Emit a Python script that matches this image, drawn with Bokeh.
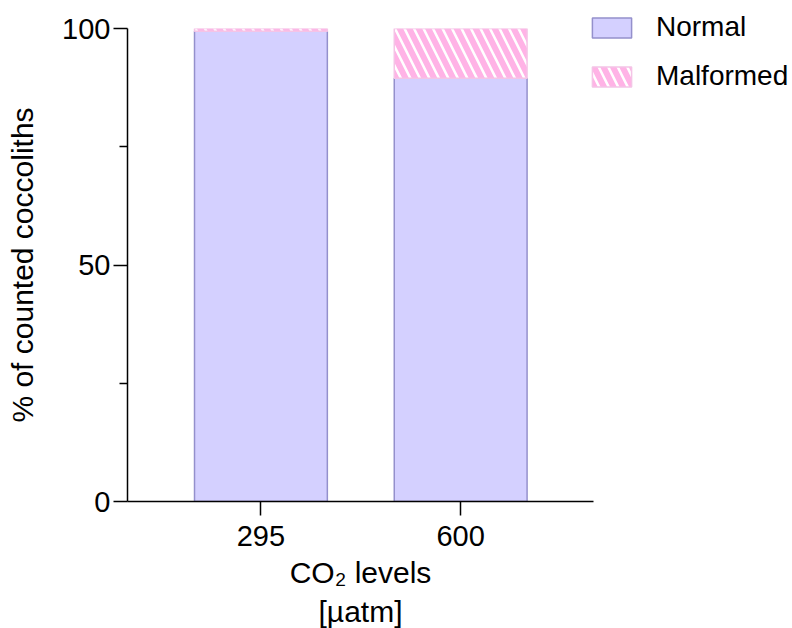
from bokeh.plotting import figure
from bokeh.models import Range1d, FixedTicker, Legend, LegendItem, ColumnDataSource
from bokeh.embed import file_html
from bokeh.resources import INLINE

categories = ["295", "600"]
normal = [99.4, 89.5]
malformed = [0.6, 10.5]
series_names = ["Normal", "Malformed"]
y_ticks = [0, 50, 100]
y_minor = [25, 75]

FONT = "Liberation Sans"
x = list(range(len(categories)))
bottom_m = normal
top_m = [n + m for n, m in zip(normal, malformed)]

src = ColumnDataSource(dict(x=x, normal=normal, bm=bottom_m, tm=top_m))

p = figure(frame_width=466, frame_height=473, output_backend="svg", toolbar_location=None,
           x_range=Range1d(-0.668, 1.665), y_range=Range1d(0, 100),
           min_border_left=127, min_border_top=28, min_border_bottom=127,
           min_border_right=0)
p.outline_line_color = None
p.grid.visible = False

r1 = p.vbar(x="x", top="normal", bottom=0, width=0.665, source=src,
            fill_color="#D4D0FF", line_color="#9490CC", line_width=1.5)
r2 = p.vbar(x="x", top="tm", bottom="bm", width=0.665, source=src,
            fill_color="white", line_color="#F4C4E6", line_width=1.5,
            hatch_pattern="\\", hatch_color="#FFB3E6", hatch_weight=6, hatch_scale=19)

xa = p.xaxis[0]
xa.ticker = FixedTicker(ticks=x)
xa.major_label_overrides = {i: c for i, c in zip(x, categories)}
xa.minor_tick_line_color = None
xa.major_tick_in = 0
xa.major_tick_out = 14
xa.axis_label = "CO\u2082 levels\n[\u00b5atm]"

ya = p.yaxis[0]
ya.ticker = FixedTicker(ticks=y_ticks, minor_ticks=y_minor)
ya.major_tick_in = 0
ya.major_tick_out = 14
ya.minor_tick_in = 0
ya.minor_tick_out = 8
ya.axis_label = "% of counted coccoliths"

for ax in (xa, ya):
    ax.axis_line_color = "black"
    ax.axis_line_width = 1.5
    ax.major_tick_line_color = "black"
    ax.major_tick_line_width = 1.5
    ax.minor_tick_line_width = 1.5
    ax.major_label_text_font = FONT
    ax.major_label_text_font_size = "29px"
    ax.major_label_text_color = "black"
    ax.axis_label_text_font = FONT
    ax.axis_label_text_font_style = "normal"
    ax.axis_label_text_color = "black"
    ax.axis_label_text_font_size = "30px"

xa.major_label_standoff = 10
xa.axis_label_standoff = 7
ya.major_label_standoff = 3
ya.axis_label_standoff = 20

legend = Legend(items=[LegendItem(label=series_names[0], renderers=[r1]),
                       LegendItem(label=series_names[1], renderers=[r2])],
                location=(-6, 409), margin=0, padding=0,
                border_line_color=None, background_fill_alpha=0,
                glyph_width=49, glyph_height=25, label_height=30,
                label_standoff=20, spacing=17,
                label_text_font=FONT, label_text_font_size="28px",
                label_text_color="black")
p.add_layout(legend, "right")

open("out.html", "w").write(file_html(p, INLINE))
